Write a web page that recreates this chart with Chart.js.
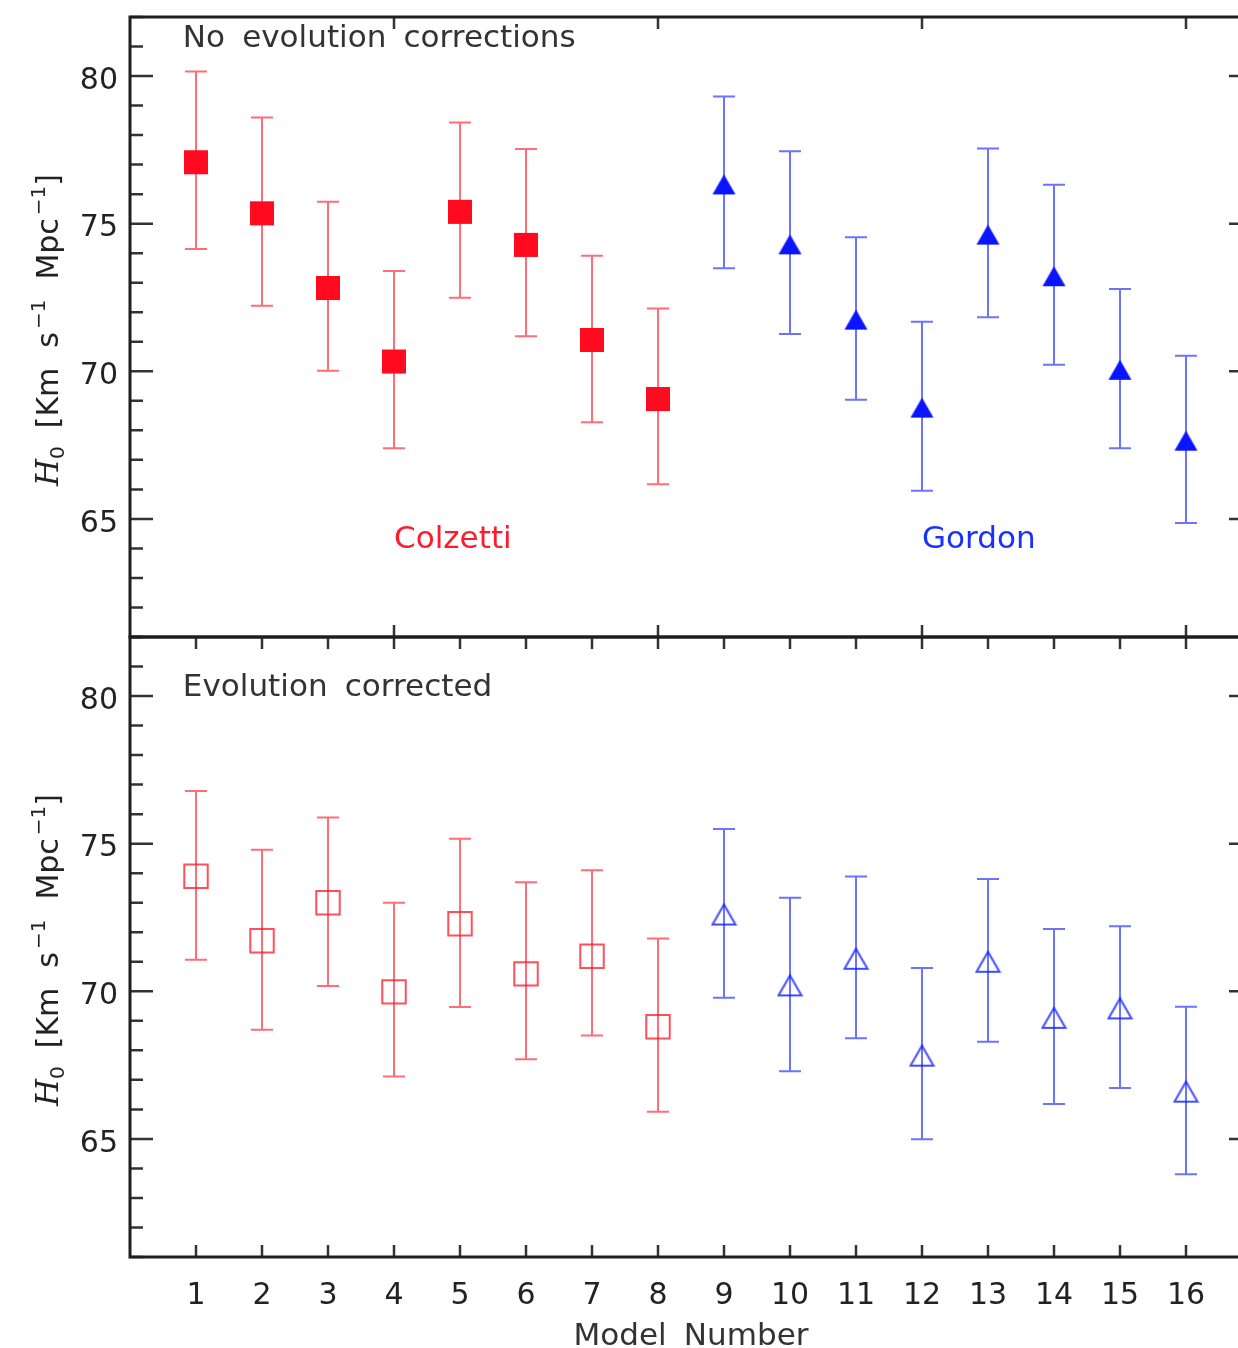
<!DOCTYPE html>
<html>
<head>
<meta charset="utf-8">
<title>H0 by model number</title>
<script src="https://cdn.jsdelivr.net/npm/chart.js@4.4.1/dist/chart.umd.min.js"></script>
<style>
	html, body { margin: 0; padding: 0; background: #fff; }
	body { width: 1238px; height: 1348px; overflow: hidden; position: relative; }
	canvas { position: absolute; left: 0; }
	#chartTop { top: 0; }
	#chartBottom { top: 620px; }
</style>
</head>
<body>
<canvas id="chartTop" width="1260" height="640"></canvas>
<canvas id="chartBottom" width="1260" height="728"></canvas>
<script>
'use strict'

// x axis
const modelTicks = [1, 2, 3, 4, 5, 6, 7, 8, 9, 10, 11, 12, 13, 14, 15, 16]
const colzettiModels = [1, 2, 3, 4, 5, 6, 7, 8]
const gordonModels = [9, 10, 11, 12, 13, 14, 15, 16]
const yTickValues = [65, 70, 75, 80]

// top panel: no evolution corrections
const topColz = [77.08, 75.35, 72.82, 70.33, 75.40, 74.28, 71.06, 69.06]
const topColzHigh = [80.15, 78.60, 75.74, 73.40, 78.43, 77.53, 73.91, 72.13]
const topColzLow = [74.14, 72.22, 70.02, 67.39, 72.49, 71.19, 68.27, 66.17]
const topGordon = [76.33, 74.30, 71.75, 68.77, 74.63, 73.22, 70.05, 67.65]
const topGordonHigh = [79.31, 77.45, 74.54, 71.68, 77.55, 76.32, 72.79, 70.53]
const topGordonLow = [73.49, 71.26, 69.04, 65.95, 71.83, 70.22, 67.39, 64.86]

// bottom panel: evolution corrected
const botColz = [73.90, 71.71, 73.00, 69.98, 72.29, 70.59, 71.19, 68.80]
const botColzHigh = [76.78, 74.79, 75.89, 73.00, 75.17, 73.69, 74.10, 71.79]
const botColzLow = [71.07, 68.70, 70.18, 67.11, 69.47, 67.70, 68.50, 65.92]
const botGordon = [72.60, 70.20, 71.10, 67.82, 71.00, 69.10, 69.42, 66.60]
const botGordonHigh = [75.50, 73.17, 73.89, 70.79, 73.80, 72.11, 72.20, 69.48]
const botGordonLow = [69.78, 67.29, 68.41, 64.99, 68.29, 66.18, 66.72, 63.80]

// group names written inside the top panel
const groupNames = ['Colzetti', 'Gordon']
const groupLabelX = [4, 12]
const groupLabelY = 64

const FONT = '"DejaVu Sans", sans-serif'
const INK = '#222222'
const RED = '#ff0a1e'
const BLUE = '#0a14ff'
const RED_BAR = 'rgba(255, 20, 35, 0.62)'
const BLUE_BAR = 'rgba(15, 30, 255, 0.62)'
const WORD_GAP = 7
const STRETCH = 1.035

function points(xs, ys) {
	return xs.map((x, i) => ({ x: x, y: ys[i] }))
}

// IDL style triangle, centred on its bounding box
function triangleStyle(w, h, fill, stroke) {
	const c = document.createElement('canvas')
	c.width = w + 4
	c.height = h + 4
	const g = c.getContext('2d')
	g.beginPath()
	g.moveTo(c.width / 2, 2)
	g.lineTo(w + 2, h + 2)
	g.lineTo(2, h + 2)
	g.closePath()
	if (fill) {
		g.fillStyle = fill
		g.fill()
	}
	if (stroke) {
		g.strokeStyle = stroke
		g.lineWidth = 2
		g.stroke()
	}
	return c
}

// the IDL font is a little wider than DejaVu, with wide word spaces
function drawWords(ctx, text, x, y, align) {
	const words = text.split(' ')
	const gap = ctx.measureText(' ').width + WORD_GAP
	const widths = words.map(w => ctx.measureText(w).width)
	const total = (widths.reduce((a, b) => a + b, 0) + gap * (words.length - 1)) * STRETCH
	ctx.save()
	ctx.translate(align === 'center' ? x - total / 2 : x, y)
	ctx.scale(STRETCH, 1)
	ctx.textAlign = 'left'
	let cx = 0
	words.forEach((w, i) => {
		ctx.fillText(w, cx, 0)
		cx += widths[i] + gap
	})
	ctx.restore()
}

function drawYTitle(ctx, baseX, cy) {
	const main = '30px ' + FONT
	const small = '20px ' + FONT
	const parts = [
		{ text: 'H', font: 'italic 31px "DejaVu Serif", serif', dy: 0 },
		{ text: '0', font: small, dy: 6 },
		{ gap: 18 },
		{ text: '[Km', font: main, dy: 0 },
		{ gap: 20 },
		{ text: 's', font: main, dy: 0 },
		{ gap: 3 },
		{ text: '\u22121', font: small, dy: -13 },
		{ gap: 20 },
		{ text: 'Mpc', font: main, dy: 0 },
		{ gap: 3 },
		{ text: '\u22121', font: small, dy: -13 },
		{ text: ']', font: main, dy: 0 },
	]
	let total = 0
	parts.forEach(p => {
		if (p.gap) { p.w = p.gap } else { ctx.font = p.font; p.w = ctx.measureText(p.text).width }
		total += p.w
	})
	ctx.save()
	ctx.translate(baseX, cy)
	ctx.rotate(-Math.PI / 2)
	ctx.fillStyle = INK
	ctx.textAlign = 'left'
	ctx.textBaseline = 'alphabetic'
	let x = -total / 2
	parts.forEach(p => {
		if (!p.gap) {
			ctx.font = p.font
			ctx.fillText(p.text, x, p.dy)
		}
		x += p.w
	})
	ctx.restore()
}

// vertical error bars with caps, from the dataset's own low / high arrays
const errorBars = {
	id: 'errorBars',
	beforeDatasetsDraw(chart) {
		const ctx = chart.ctx
		const yScale = chart.scales.y
		chart.data.datasets.forEach((ds, i) => {
			const meta = chart.getDatasetMeta(i)
			ctx.save()
			ctx.strokeStyle = ds.errColor
			ctx.lineWidth = 2
			meta.data.forEach((pt, j) => {
				const yHi = yScale.getPixelForValue(ds.errHigh[j])
				const yLo = yScale.getPixelForValue(ds.errLow[j])
				ctx.beginPath()
				ctx.moveTo(pt.x, yHi)
				ctx.lineTo(pt.x, yLo)
				ctx.moveTo(pt.x - 11, yHi)
				ctx.lineTo(pt.x + 11, yHi)
				ctx.moveTo(pt.x - 11, yLo)
				ctx.lineTo(pt.x + 11, yLo)
				ctx.stroke()
			})
			ctx.restore()
		})
	},
}

// box, inward ticks and texts
const idlFrame = {
	id: 'idlFrame',
	afterDraw(chart, args, opts) {
		const ctx = chart.ctx
		const { left, right, top, bottom } = chart.chartArea
		const xs = chart.scales.x
		const ys = chart.scales.y
		ctx.save()

		ctx.strokeStyle = '#333'
		ctx.lineWidth = 2.5
		ctx.beginPath()
		for (let v = Math.ceil(ys.min); v <= ys.max; v++) {
			const py = ys.getPixelForValue(v)
			const len = v % 5 === 0 ? 23 : 13
			ctx.moveTo(left, py); ctx.lineTo(left + len, py)
			ctx.moveTo(right, py); ctx.lineTo(right - len, py)
		}
		for (let v = xs.min + opts.xTickEvery; v < xs.max; v += opts.xTickEvery) {
			const px = xs.getPixelForValue(v)
			ctx.moveTo(px, top); ctx.lineTo(px, top + 12)
			ctx.moveTo(px, bottom); ctx.lineTo(px, bottom - 12)
		}
		ctx.stroke()

		ctx.strokeStyle = '#1e1e1e'
		ctx.lineWidth = 3
		ctx.strokeRect(left, top, right - left, bottom - top)

		ctx.fillStyle = '#333'
		ctx.font = '30px ' + FONT
		ctx.textBaseline = 'alphabetic'
		drawWords(ctx, opts.title, xs.getPixelForValue(0.8), ys.getPixelForValue(opts.titleY), 'left')

		if (opts.groupLabels) {
			const colors = ['#ff1a2c', '#1a30ff']
			groupNames.forEach((name, i) => {
				ctx.fillStyle = colors[i]
				drawWords(ctx, name, xs.getPixelForValue(groupLabelX[i]), ys.getPixelForValue(groupLabelY), 'left')
			})
		}

		if (opts.xTitle) {
			ctx.fillStyle = '#333'
			drawWords(ctx, opts.xTitle, (left + right) / 2, bottom + 88, 'center')
		}

		drawYTitle(ctx, 58, (top + bottom) / 2 + 3)
		ctx.restore()
	},
}

const yAxis = {
	type: 'linear',
	min: 61,
	max: 82,
	afterBuildTicks: s => { s.ticks = yTickValues.map(v => ({ value: v })) },
	afterFit: s => { s.width = 130; s.paddingTop = 0; s.paddingBottom = 0 },
	grid: { display: false, drawTicks: false },
	border: { display: false },
	ticks: { padding: 12, labelOffset: 5, color: INK, font: { family: 'DejaVu Sans', size: 30 } },
}

function panelDatasets(colz, colzLow, colzHigh, gordon, gordonLow, gordonHigh, filled) {
	return [
		{
			label: 'Colzetti',
			data: points(colzettiModels, colz),
			errLow: colzLow,
			errHigh: colzHigh,
			errColor: RED_BAR,
			pointStyle: 'rect',
			pointRadius: filled ? 17 : 16.6,
			backgroundColor: filled ? RED : 'rgba(0,0,0,0)',
			borderColor: filled ? RED : 'rgba(255, 20, 35, 0.75)',
			borderWidth: filled ? 0 : 2,
		},
		{
			label: 'Gordon',
			data: points(gordonModels, gordon),
			errLow: gordonLow,
			errHigh: gordonHigh,
			errColor: BLUE_BAR,
			pointStyle: filled ? triangleStyle(23, 20, BLUE, null) : triangleStyle(23, 20, null, 'rgba(15, 30, 255, 0.8)'),
			pointRadius: 10,
		},
	]
}

let chartTop = new Chart(document.getElementById('chartTop'), {
	type: 'scatter',
	data: {
		datasets: panelDatasets(topColz, topColzLow, topColzHigh, topGordon, topGordonLow, topGordonHigh, true),
	},
	options: {
		responsive: false,
		animation: false,
		events: [],
		layout: { autoPadding: false, padding: { left: 0, top: 17, right: 8, bottom: 3 } },
		plugins: {
			legend: { display: false },
			tooltip: { enabled: false },
			idlFrame: { xTickEvery: 4, title: 'No evolution corrections', titleY: 81, groupLabels: true },
		},
		scales: {
			x: { type: 'linear', min: 0, max: 17, display: false },
			y: yAxis,
		},
	},
	plugins: [errorBars, idlFrame],
})

let chartBottom = new Chart(document.getElementById('chartBottom'), {
	type: 'scatter',
	data: {
		datasets: panelDatasets(botColz, botColzLow, botColzHigh, botGordon, botGordonLow, botGordonHigh, false),
	},
	options: {
		responsive: false,
		animation: false,
		events: [],
		layout: { autoPadding: false, padding: { left: 0, top: 17, right: 8, bottom: 0 } },
		plugins: {
			legend: { display: false },
			tooltip: { enabled: false },
			idlFrame: { xTickEvery: 1, title: 'Evolution corrected', titleY: 80, groupLabels: false, xTitle: 'Model Number' },
		},
		scales: {
			x: {
				type: 'linear',
				min: 0,
				max: 17,
				position: 'bottom',
				afterBuildTicks: s => { s.ticks = modelTicks.map(v => ({ value: v })) },
				afterFit: s => { s.height = 91; s.paddingLeft = 0; s.paddingRight = 0 },
				grid: { display: false, drawTicks: false },
				border: { display: false },
				ticks: { padding: 21, autoSkip: false, maxRotation: 0, color: INK, font: { family: 'DejaVu Sans', size: 30 } },
			},
			y: yAxis,
		},
	},
	plugins: [errorBars, idlFrame],
})
</script>
</body>
</html>
